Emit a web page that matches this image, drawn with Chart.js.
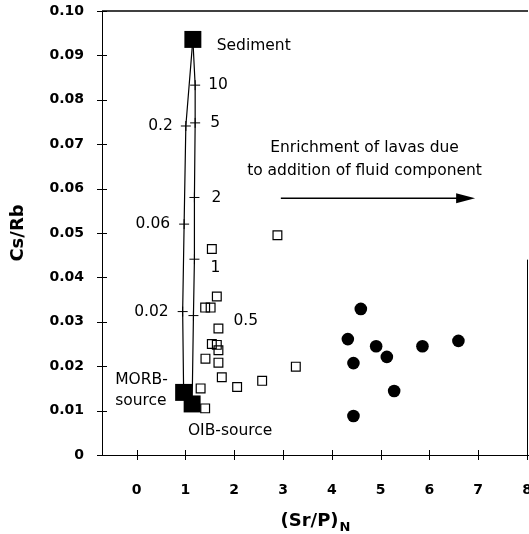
<!DOCTYPE html>
<html>
<head>
<meta charset="utf-8">
<script src="https://cdn.jsdelivr.net/npm/chart.js@4.4.0/dist/chart.umd.min.js"></script>
<style>
  html, body { margin: 0; padding: 0; background: #fff; }
  canvas { display: block; }
</style>
</head>
<body>
<canvas id="chart" width="529" height="534"></canvas>
<script>
// Axis ticks
const X_TICKS = [0, 1, 2, 3, 4, 5, 6, 7, 8];
const Y_TICKS = [0, 0.01, 0.02, 0.03, 0.04, 0.05, 0.06, 0.07, 0.08, 0.09, 0.10];

// End members (large filled squares): sediment, MORB-source, OIB-source
const END_X = [1.152, 0.963, 1.137];
const END_Y = [0.0936, 0.0141, 0.0115];

// Mixing curve OIB-source -> sediment, crosses at the tagged proportions
const OIB_MIX_X = [1.137, 1.164, 1.184, 1.184, 1.199, 1.199, 1.152];
const OIB_MIX_Y = [0.0115, 0.0314, 0.0441, 0.0580, 0.0748, 0.0833, 0.0936];
const OIB_MIX_TAGS = ['', '0.5', '1', '2', '5', '10', ''];

// Mixing curve MORB-source -> sediment
const MORB_MIX_X = [0.963, 0.943, 0.973, 1.008, 1.152];
const MORB_MIX_Y = [0.0141, 0.0323, 0.0520, 0.0741, 0.0936];
const MORB_MIX_TAGS = ['', '0.02', '0.06', '0.2', ''];

// Lavas, open squares
const SQ_X = [2.885, 1.541, 1.643, 1.404, 1.516, 1.676, 1.541, 1.643, 1.676,
              1.410, 1.676, 1.745, 2.059, 2.572, 3.262, 1.311, 1.404];
const SQ_Y = [0.0495, 0.0464, 0.0357, 0.0332, 0.0332, 0.0285, 0.0250, 0.0248, 0.0236,
              0.0217, 0.0208, 0.0175, 0.0153, 0.0167, 0.0199, 0.0150, 0.0105];

// Lavas, filled circles
const DOT_X = [4.594, 4.328, 4.908, 5.127, 5.857, 6.594, 4.443, 5.277, 4.443];
const DOT_Y = [0.0329, 0.0261, 0.0245, 0.0221, 0.0245, 0.0257, 0.0207, 0.0144, 0.0088];

const INK = '#000';
const FONT = "'DejaVu Sans', 'Liberation Sans', sans-serif";

const pts = (xs, ys) => xs.map((x, i) => ({ x, y: ys[i] }));

// pixel offsets of the proportion tags from their crosses
const TAG_OFFSET = {
  '10': [13, 0], '5': [15, 0], '2': [17, 0], '1': [16, 9], '0.5': [40, 5],
  '0.2': [-13, 0], '0.06': [-14, 0], '0.02': [-14, 0],
};

// annotations in data units
const NOTES = [
  { text: 'Sediment', x: 1.64, y: 0.0922, align: 'left' },
  { text: 'MORB-', x: -0.44, y: 0.0169, align: 'left' },
  { text: 'source', x: -0.44, y: 0.0122, align: 'left' },
  { text: 'OIB-source', x: 1.05, y: 0.0054, align: 'left' },
  { text: 'Enrichment of lavas due', x: 4.67, y: 0.0691, align: 'center' },
  { text: 'to addition of fluid component', x: 4.67, y: 0.0640, align: 'center' },
];
const ARROW = { x0: 2.955, x1: 6.936, y: 0.0578 };

const decor = {
  id: 'decor',
  afterDraw(chart) {
    const { ctx, chartArea: a, scales: { x, y } } = chart;
    ctx.save();
    ctx.strokeStyle = INK;
    ctx.fillStyle = INK;
    ctx.lineWidth = 1;

    // tick marks crossing both axes
    ctx.beginPath();
    Y_TICKS.forEach(v => {
      const py = Math.round(y.getPixelForValue(v)) + 0.5;
      ctx.moveTo(a.left - 5, py);
      ctx.lineTo(a.left + 5, py);
    });
    X_TICKS.forEach(v => {
      const px = Math.round(x.getPixelForValue(v)) + 0.5;
      ctx.moveTo(px, a.bottom - 5);
      ctx.lineTo(px, a.bottom + 5);
    });
    ctx.stroke();

    // frame: top edge and lower part of the right edge
    ctx.lineWidth = 1.5;
    const top = y.getPixelForValue(0.1);
    ctx.beginPath();
    ctx.moveTo(a.left, top);
    ctx.lineTo(a.right, top);
    ctx.stroke();
    ctx.lineWidth = 1;
    ctx.beginPath();
    ctx.moveTo(a.right - 0.5, a.bottom);
    ctx.lineTo(a.right - 0.5, y.getPixelForValue(0.044));
    ctx.stroke();

    // proportion tags next to the crosses
    ctx.font = `15.5px ${FONT}`;
    ctx.textBaseline = 'middle';
    const tag = (xs, ys, tags) => tags.forEach((t, i) => {
      if (!t) return;
      const [dx, dy] = TAG_OFFSET[t];
      ctx.textAlign = dx < 0 ? 'right' : 'left';
      ctx.fillText(t, x.getPixelForValue(xs[i]) + dx, y.getPixelForValue(ys[i]) + dy);
    });
    tag(OIB_MIX_X, OIB_MIX_Y, OIB_MIX_TAGS);
    tag(MORB_MIX_X, MORB_MIX_Y, MORB_MIX_TAGS);

    NOTES.forEach(n => {
      ctx.textAlign = n.align;
      ctx.fillText(n.text, x.getPixelForValue(n.x), y.getPixelForValue(n.y));
    });

    // arrow
    const ax0 = x.getPixelForValue(ARROW.x0);
    const ax1 = x.getPixelForValue(ARROW.x1);
    const ay = y.getPixelForValue(ARROW.y);
    ctx.lineWidth = 1.5;
    ctx.beginPath();
    ctx.moveTo(ax0, ay);
    ctx.lineTo(ax1 - 16, ay);
    ctx.stroke();
    ctx.beginPath();
    ctx.moveTo(ax1, ay);
    ctx.lineTo(ax1 - 19, ay - 5);
    ctx.lineTo(ax1 - 19, ay + 5);
    ctx.closePath();
    ctx.fill();

    // x axis title with subscript N
    const main = '(Sr/P)';
    ctx.font = `bold 18px ${FONT}`;
    const wMain = ctx.measureText(main).width;
    ctx.font = `bold 13px ${FONT}`;
    const wSub = ctx.measureText('N').width;
    const cx = (a.left + a.right) / 2;
    const left = cx - (wMain + wSub) / 2;
    ctx.textAlign = 'left';
    ctx.textBaseline = 'alphabetic';
    ctx.font = `bold 18px ${FONT}`;
    ctx.fillText(main, left, 526);
    ctx.font = `bold 13px ${FONT}`;
    ctx.fillText('N', left + wMain + 1, 531);
    ctx.restore();
  },
};

const fixedTicks = list => scale => {
  scale.ticks = list.map(v => ({ value: v }));
};

new Chart(document.getElementById('chart'), {
  type: 'scatter',
  data: {
    datasets: [
      {
        label: 'End members',
        data: pts(END_X, END_Y),
        pointStyle: 'rect',
        pointRadius: 12,
        backgroundColor: INK,
        borderColor: INK,
        borderWidth: 0,
      },
      {
        label: 'Lavas (circles)',
        data: pts(DOT_X, DOT_Y),
        pointStyle: 'circle',
        pointRadius: 6.3,
        backgroundColor: INK,
        borderColor: INK,
        borderWidth: 0,
      },
      {
        label: 'Lavas (squares)',
        data: pts(SQ_X, SQ_Y),
        pointStyle: 'rect',
        pointRadius: 6.2,
        backgroundColor: 'rgba(0,0,0,0)',
        borderColor: INK,
        borderWidth: 1.2,
      },
      {
        label: 'OIB-source mixing',
        data: pts(OIB_MIX_X, OIB_MIX_Y),
        showLine: true,
        borderColor: INK,
        borderWidth: 1.2,
        pointStyle: 'cross',
        pointRadius: OIB_MIX_TAGS.map(t => (t ? 5 : 0)),
        pointBorderWidth: 1,
        pointBorderColor: INK,
      },
      {
        label: 'MORB-source mixing',
        data: pts(MORB_MIX_X, MORB_MIX_Y),
        showLine: true,
        borderColor: INK,
        borderWidth: 1.2,
        pointStyle: 'cross',
        pointRadius: MORB_MIX_TAGS.map(t => (t ? 5 : 0)),
        pointBorderWidth: 1,
        pointBorderColor: INK,
      },
    ],
  },
  options: {
    responsive: false,
    animation: false,
    events: [],
    layout: { autoPadding: false, padding: { top: 11, right: 1, left: 0, bottom: 0 } },
    plugins: {
      legend: { display: false },
      tooltip: { enabled: false },
    },
    scales: {
      x: {
        type: 'linear',
        min: -0.71,
        max: 8.02,
        grid: { display: false, drawTicks: false },
        border: { display: true, color: INK, width: 1 },
        afterBuildTicks: fixedTicks(X_TICKS),
        afterFit: s => { s.height = 79; s.paddingLeft = 0; s.paddingRight = 0; },
        ticks: {
          color: INK,
          font: { family: FONT, size: 14, weight: 'bold' },
          padding: 27,
          maxRotation: 0,
          autoSkip: false,
        },
      },
      y: {
        type: 'linear',
        min: 0,
        max: 0.1,
        grid: { display: false, drawTicks: false },
        border: { display: true, color: INK, width: 1 },
        afterBuildTicks: fixedTicks(Y_TICKS),
        afterFit: s => { s.width = 102; s.paddingTop = 0; s.paddingBottom = 0; },
        ticks: {
          color: INK,
          font: { family: FONT, size: 14, weight: 'bold' },
          padding: 18,
          autoSkip: false,
          callback: v => (v === 0 ? '0' : v.toFixed(2)),
        },
        title: {
          display: true,
          text: 'Cs/Rb',
          color: INK,
          font: { family: FONT, size: 18, weight: 'bold' },
          padding: { top: 8, bottom: 0 },
        },
      },
    },
  },
  plugins: [decor],
});
</script>
</body>
</html>
